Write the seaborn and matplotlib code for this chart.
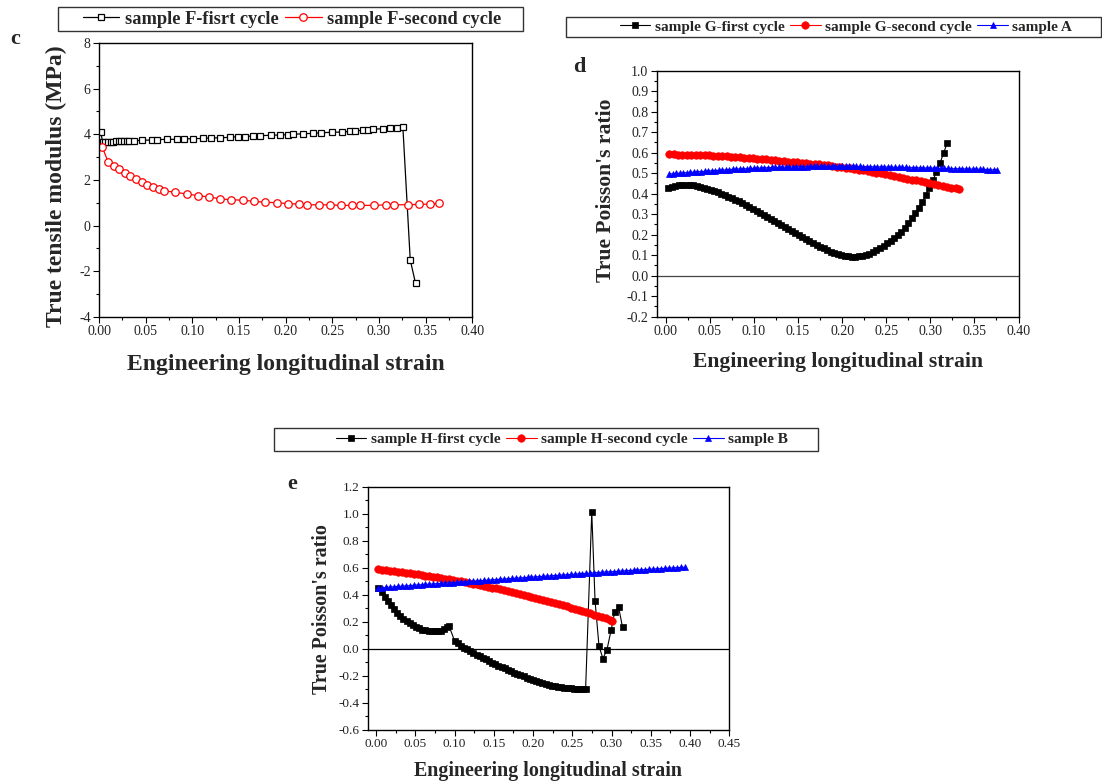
import numpy as np
import pandas as pd
import seaborn as sns
import matplotlib
matplotlib.use("Agg")
import matplotlib.pyplot as plt
from matplotlib.patches import Rectangle
from matplotlib.ticker import MultipleLocator, FormatStrFormatter
from matplotlib.font_manager import FontProperties

# ---------------- data: panel c (true tensile modulus, MPa) ----------------
f1_strain = [0.0018, 0.0039, 0.0068, 0.0097, 0.0125, 0.0154, 0.0182, 0.0211, 0.0240,
             0.0268, 0.0297, 0.0325, 0.0375, 0.0458, 0.0565, 0.0626, 0.0733, 0.0840,
             0.0912, 0.1004, 0.1112, 0.1198, 0.1298, 0.1405, 0.1491, 0.1569, 0.1648,
             0.1727, 0.1841, 0.1941, 0.2027, 0.2084, 0.2191, 0.2298, 0.2384, 0.2495,
             0.2602, 0.2685, 0.2742, 0.2827, 0.2878, 0.2935, 0.3042, 0.3121, 0.3192,
             0.3256, 0.3335, 0.3392]
f1_modulus = [4.09, 3.68, 3.68, 3.68, 3.68, 3.68, 3.69, 3.69, 3.69, 3.70, 3.70, 3.71,
              3.72, 3.74, 3.75, 3.77, 3.78, 3.78, 3.80, 3.81, 3.82, 3.84, 3.85, 3.87,
              3.90, 3.90, 3.93, 3.94, 3.96, 3.97, 3.99, 4.00, 4.03, 4.04, 4.07, 4.09,
              4.10, 4.13, 4.15, 4.18, 4.19, 4.22, 4.25, 4.26, 4.29, 4.32, -1.50, -2.53]

f2_strain = [0.0036, 0.0097, 0.0157, 0.0218, 0.0275, 0.0336, 0.0397, 0.0458, 0.0518,
             0.0579, 0.0640, 0.0701, 0.0819, 0.0940, 0.1062, 0.1180, 0.1301, 0.1419,
             0.1541, 0.1659, 0.1780, 0.1902, 0.2023, 0.2141, 0.2227, 0.2352, 0.2470,
             0.2592, 0.2710, 0.2799, 0.2949, 0.3071, 0.3164, 0.3314, 0.3428, 0.3550,
             0.3646]
f2_modulus = [3.43, 2.80, 2.63, 2.47, 2.31, 2.16, 2.03, 1.91, 1.80, 1.68, 1.62, 1.53,
              1.46, 1.39, 1.31, 1.26, 1.17, 1.14, 1.11, 1.07, 1.02, 1.01, 0.96, 0.95,
              0.92, 0.91, 0.91, 0.89, 0.89, 0.89, 0.89, 0.91, 0.91, 0.92, 0.93, 0.95,
              0.98]

# ---------------- data: panel d (true Poisson's ratio) ----------------
g1_strain = [0.003, 0.007, 0.011, 0.015, 0.019, 0.023, 0.027, 0.031, 0.035, 0.039,
             0.043, 0.047, 0.051, 0.055, 0.059, 0.063, 0.067, 0.071, 0.075, 0.079,
             0.083, 0.087, 0.091, 0.095, 0.099, 0.103, 0.107, 0.111, 0.115, 0.119,
             0.123, 0.127, 0.131, 0.135, 0.139, 0.143, 0.147, 0.151, 0.155, 0.159,
             0.163, 0.167, 0.171, 0.175, 0.179, 0.183, 0.187, 0.191, 0.195, 0.199,
             0.203, 0.207, 0.211, 0.215, 0.219, 0.223, 0.227, 0.231, 0.235, 0.239,
             0.243, 0.247, 0.251, 0.255, 0.259, 0.263, 0.267, 0.271, 0.275, 0.279,
             0.283, 0.287, 0.291, 0.295, 0.299, 0.303, 0.307, 0.311, 0.315, 0.319]
g1_ratio = [0.430, 0.434, 0.437, 0.440, 0.441, 0.442, 0.442, 0.441, 0.438, 0.434,
            0.429, 0.424, 0.419, 0.413, 0.406, 0.399, 0.392, 0.385, 0.378, 0.371,
            0.362, 0.353, 0.344, 0.335, 0.325, 0.316, 0.306, 0.297, 0.287, 0.277,
            0.267, 0.257, 0.247, 0.237, 0.227, 0.217, 0.207, 0.197, 0.187, 0.178,
            0.168, 0.159, 0.150, 0.141, 0.133, 0.125, 0.118, 0.111, 0.106, 0.101,
            0.097, 0.095, 0.093, 0.093, 0.094, 0.097, 0.102, 0.108, 0.116, 0.126,
            0.136, 0.147, 0.158, 0.170, 0.182, 0.197, 0.214, 0.234, 0.256, 0.280,
            0.305, 0.332, 0.361, 0.394, 0.428, 0.466, 0.505, 0.549, 0.597, 0.646]

g2_strain = [0.004, 0.009, 0.014, 0.019, 0.024, 0.029, 0.034, 0.039, 0.044, 0.049,
             0.054, 0.059, 0.064, 0.069, 0.074, 0.079, 0.084, 0.089, 0.094, 0.099,
             0.104, 0.109, 0.114, 0.119, 0.124, 0.129, 0.134, 0.139, 0.144, 0.149,
             0.154, 0.159, 0.164, 0.169, 0.174, 0.179, 0.184, 0.189, 0.194, 0.199,
             0.204, 0.209, 0.214, 0.219, 0.224, 0.229, 0.234, 0.239, 0.244, 0.249,
             0.254, 0.259, 0.264, 0.269, 0.274, 0.279, 0.284, 0.289, 0.294, 0.299,
             0.304, 0.309, 0.314, 0.319, 0.324, 0.329, 0.333]
g2_ratio = [0.592, 0.592, 0.591, 0.591, 0.590, 0.590, 0.589, 0.589, 0.588, 0.587,
            0.586, 0.585, 0.584, 0.582, 0.581, 0.579, 0.578, 0.576, 0.574, 0.572,
            0.571, 0.569, 0.567, 0.565, 0.563, 0.561, 0.559, 0.557, 0.555, 0.553,
            0.551, 0.549, 0.547, 0.545, 0.543, 0.540, 0.538, 0.535, 0.532, 0.529,
            0.526, 0.523, 0.520, 0.517, 0.514, 0.510, 0.507, 0.503, 0.499, 0.495,
            0.491, 0.487, 0.483, 0.478, 0.474, 0.469, 0.465, 0.461, 0.456, 0.452,
            0.448, 0.443, 0.439, 0.434, 0.430, 0.426, 0.423]

a_strain = [0.004, 0.008, 0.012, 0.016, 0.020, 0.024, 0.028, 0.032, 0.036, 0.040,
            0.044, 0.048, 0.052, 0.056, 0.060, 0.064, 0.068, 0.072, 0.076, 0.080,
            0.084, 0.088, 0.092, 0.096, 0.100, 0.104, 0.108, 0.112, 0.116, 0.120,
            0.124, 0.128, 0.132, 0.136, 0.140, 0.144, 0.148, 0.152, 0.156, 0.160,
            0.164, 0.168, 0.172, 0.176, 0.180, 0.184, 0.188, 0.192, 0.196, 0.200,
            0.204, 0.208, 0.212, 0.216, 0.220, 0.224, 0.228, 0.232, 0.236, 0.240,
            0.244, 0.248, 0.252, 0.256, 0.260, 0.264, 0.268, 0.272, 0.276, 0.280,
            0.284, 0.288, 0.292, 0.296, 0.300, 0.304, 0.308, 0.312, 0.316, 0.320,
            0.324, 0.328, 0.332, 0.336, 0.340, 0.344, 0.348, 0.352, 0.356, 0.360,
            0.364, 0.368, 0.372, 0.376]
a_ratio = [0.496, 0.497, 0.499, 0.500, 0.501, 0.503, 0.504, 0.505, 0.507, 0.508,
           0.509, 0.510, 0.512, 0.513, 0.514, 0.515, 0.516, 0.518, 0.519, 0.520,
           0.521, 0.521, 0.522, 0.523, 0.524, 0.525, 0.525, 0.526, 0.527, 0.528,
           0.528, 0.529, 0.529, 0.530, 0.530, 0.531, 0.531, 0.532, 0.532, 0.532,
           0.533, 0.533, 0.533, 0.533, 0.533, 0.533, 0.533, 0.533, 0.533, 0.533,
           0.533, 0.533, 0.533, 0.533, 0.533, 0.532, 0.532, 0.532, 0.531, 0.531,
           0.531, 0.530, 0.530, 0.529, 0.529, 0.529, 0.528, 0.528, 0.527, 0.527,
           0.527, 0.526, 0.526, 0.525, 0.525, 0.525, 0.524, 0.524, 0.523, 0.523,
           0.522, 0.522, 0.522, 0.521, 0.521, 0.520, 0.520, 0.520, 0.519, 0.519,
           0.518, 0.517, 0.516, 0.515]

# ---------------- data: panel e (true Poisson's ratio) ----------------
h1_strain = [0.003, 0.007, 0.011, 0.015, 0.019, 0.023, 0.027, 0.031, 0.035, 0.039,
             0.043, 0.047, 0.051, 0.055, 0.059, 0.063, 0.067, 0.071, 0.075, 0.079,
             0.083, 0.087, 0.091, 0.093,
             0.100, 0.104, 0.108, 0.112, 0.116, 0.120, 0.124, 0.128, 0.132, 0.136,
             0.140, 0.144, 0.148, 0.152, 0.156, 0.160, 0.164, 0.168, 0.172, 0.176,
             0.180, 0.184, 0.188, 0.192, 0.196, 0.200, 0.204, 0.208, 0.212, 0.216,
             0.220, 0.224, 0.228, 0.232, 0.236, 0.240, 0.244, 0.248, 0.252, 0.256,
             0.260, 0.264, 0.267,
             0.2748, 0.279, 0.284, 0.289, 0.2942, 0.2995, 0.304, 0.309, 0.314]
h1_ratio = [0.451, 0.418, 0.386, 0.354, 0.322, 0.293, 0.267, 0.244, 0.224, 0.207,
            0.192, 0.178, 0.164, 0.152, 0.143, 0.137, 0.133, 0.130, 0.129, 0.131,
            0.136, 0.147, 0.162, 0.170,
            0.060, 0.040, 0.025, 0.010, -0.004, -0.017, -0.030, -0.042, -0.054, -0.066,
            -0.078, -0.090, -0.101, -0.112, -0.123, -0.134, -0.144, -0.155, -0.165, -0.175,
            -0.185, -0.195, -0.204, -0.213, -0.222, -0.231, -0.239, -0.247, -0.254, -0.261,
            -0.267, -0.273, -0.278, -0.282, -0.285, -0.288, -0.290, -0.292, -0.293, -0.294,
            -0.294, -0.294, -0.294,
            1.012, 0.355, 0.022, -0.072, -0.005, 0.140, 0.272, 0.309, 0.160]

h2_strain = [0.003, 0.008, 0.013, 0.018, 0.023, 0.028, 0.033, 0.038, 0.043, 0.048,
             0.053, 0.058, 0.063, 0.068, 0.073, 0.078, 0.083, 0.088, 0.093, 0.098,
             0.103, 0.108, 0.113, 0.118, 0.123, 0.128, 0.133, 0.138, 0.143, 0.148,
             0.153, 0.158, 0.163, 0.168, 0.173, 0.178, 0.183, 0.188, 0.193, 0.198,
             0.203, 0.208, 0.213, 0.218, 0.223, 0.228, 0.233, 0.238, 0.243, 0.248,
             0.253, 0.258, 0.263, 0.268, 0.273, 0.278, 0.283, 0.288, 0.293, 0.298,
             0.301]
h2_ratio = [0.588, 0.585, 0.582, 0.579, 0.575, 0.571, 0.568, 0.564, 0.560, 0.556,
            0.552, 0.548, 0.543, 0.539, 0.534, 0.530, 0.525, 0.520, 0.515, 0.510,
            0.505, 0.500, 0.494, 0.488, 0.483, 0.477, 0.471, 0.465, 0.459, 0.453,
            0.447, 0.440, 0.434, 0.427, 0.420, 0.413, 0.407, 0.400, 0.392, 0.385,
            0.378, 0.370, 0.362, 0.355, 0.347, 0.339, 0.331, 0.323, 0.314, 0.306,
            0.297, 0.289, 0.280, 0.271, 0.262, 0.253, 0.244, 0.235, 0.225, 0.216,
            0.210]

b_strain = [0.003, 0.008, 0.013, 0.018, 0.023, 0.028, 0.033, 0.038, 0.043, 0.048,
            0.053, 0.058, 0.063, 0.068, 0.073, 0.078, 0.083, 0.088, 0.093, 0.098,
            0.103, 0.108, 0.113, 0.118, 0.123, 0.128, 0.133, 0.138, 0.143, 0.148,
            0.153, 0.158, 0.163, 0.168, 0.173, 0.178, 0.183, 0.188, 0.193, 0.198,
            0.203, 0.208, 0.213, 0.218, 0.223, 0.228, 0.233, 0.238, 0.243, 0.248,
            0.253, 0.258, 0.263, 0.268, 0.273, 0.278, 0.283, 0.288, 0.293, 0.298,
            0.303, 0.308, 0.313, 0.318, 0.323, 0.328, 0.333, 0.338, 0.343, 0.348,
            0.353, 0.358, 0.363, 0.368, 0.373, 0.378, 0.383, 0.388, 0.393]
b_ratio = [0.451, 0.453, 0.455, 0.457, 0.460, 0.462, 0.464, 0.466, 0.468, 0.471,
           0.473, 0.475, 0.477, 0.479, 0.481, 0.483, 0.485, 0.487, 0.489, 0.491,
           0.493, 0.495, 0.497, 0.499, 0.501, 0.503, 0.505, 0.507, 0.509, 0.511,
           0.513, 0.515, 0.517, 0.519, 0.521, 0.523, 0.525, 0.527, 0.529, 0.531,
           0.533, 0.535, 0.537, 0.539, 0.541, 0.543, 0.545, 0.547, 0.549, 0.551,
           0.553, 0.555, 0.557, 0.559, 0.561, 0.563, 0.565, 0.567, 0.569, 0.571,
           0.572, 0.574, 0.576, 0.578, 0.580, 0.582, 0.584, 0.585, 0.587, 0.589,
           0.591, 0.593, 0.594, 0.596, 0.598, 0.599, 0.601, 0.603, 0.604]

XLABEL = "Engineering longitudinal strain"

# ---------------- styling ----------------
sns.set_theme(style="ticks")
plt.rcParams["font.family"] = ["Liberation Serif", "DejaVu Serif"]
plt.rcParams["axes.unicode_minus"] = False
plt.rcParams["axes.linewidth"] = 1.0

W, H = 1102, 784
fig = plt.figure(figsize=(W / 100, H / 100), dpi=100)
fig.patch.set_facecolor("white")


def px_rect(x0, y0, x1, y1):
    return [x0 / W, 1 - y1 / H, (x1 - x0) / W, (y1 - y0) / H]


def style_axes(ax, tick_size):
    for side in ("left", "right", "top", "bottom"):
        ax.spines[side].set_visible(True)
        ax.spines[side].set_color("black")
        ax.spines[side].set_linewidth(1.0)
    ax.tick_params(which="major", direction="out", length=4, width=0.8,
                   top=False, right=False, labelsize=tick_size, colors="black",
                   labelcolor="#222222", pad=2)
    ax.tick_params(which="minor", direction="out", length=2.2, width=0.8,
                   top=False, right=False, colors="black")
    ax.set_facecolor("white")
    ax.grid(False)


def set_labels(ax, ylabel, size, xlab_y, ylab_xy):
    ax.set_xlabel(XLABEL, fontsize=size, fontweight="bold")
    ax.set_ylabel(ylabel, fontsize=size, fontweight="bold")
    ax.xaxis.label.set_va("baseline")
    ax.xaxis.set_label_coords(0.5, xlab_y)
    ax.yaxis.label.set_va("center")
    ax.yaxis.set_label_coords(*ylab_xy)


def draw_series(ax, x, y, label, **kw):
    df = pd.DataFrame({"strain": x, "value": y})
    sns.lineplot(data=df, x="strain", y="value", ax=ax, estimator=None,
                 sort=False, label=label, **kw)


def legend_box(handles, labels, box, center_x, size, ncol):
    x0, y0, x1, y1 = box
    fig.patches.append(Rectangle((x0 / W, 1 - y1 / H), (x1 - x0) / W, (y1 - y0) / H,
                                 transform=fig.transFigure, fill=False,
                                 edgecolor="#333333", linewidth=1.0))
    fig.legend(handles, labels, loc="center",
               bbox_to_anchor=(center_x / W, 1 - (y0 + y1) / 2 / H),
               ncol=ncol, frameon=False, borderpad=0, handlelength=2.0,
               handletextpad=0.3, columnspacing=0.35,
               prop=FontProperties(family="Liberation Serif", weight="bold", size=size))


# ---------------- panel c ----------------
ax_c = fig.add_axes(px_rect(99, 43, 472.3, 317))
draw_series(ax_c, f1_strain, f1_modulus, "sample F-fisrt cycle", color="black",
            linewidth=0.9, marker="s", markersize=5.0, markerfacecolor="white",
            markeredgecolor="black", markeredgewidth=0.9)
draw_series(ax_c, f2_strain, f2_modulus, "sample F-second cycle", color="red",
            linewidth=0.9, marker="o", markersize=5.4, markerfacecolor="white",
            markeredgecolor="red", markeredgewidth=0.9)
ax_c.set_xlim(0, 0.40)
ax_c.set_ylim(-4, 8)
ax_c.xaxis.set_major_locator(MultipleLocator(0.05))
ax_c.xaxis.set_minor_locator(MultipleLocator(0.025))
ax_c.xaxis.set_major_formatter(FormatStrFormatter("%.2f"))
ax_c.yaxis.set_major_locator(MultipleLocator(2))
ax_c.yaxis.set_minor_locator(MultipleLocator(1))
style_axes(ax_c, 10)
set_labels(ax_c, "True tensile modulus (MPa)", 17, -0.193, (-0.115, 0.479))
h, l = ax_c.get_legend_handles_labels()
ax_c.get_legend().remove()
legend_box(h, l, (58, 7, 523, 31), 292, 13.2, 2)
fig.text(15 / W, 1 - 39 / H, "c", fontsize=16, fontweight="bold", ha="center", va="center")

# ---------------- panel d ----------------
ax_d = fig.add_axes(px_rect(656.7, 70.7, 1018.5, 316.7))
ax_d.axhline(0, color="#444444", linewidth=0.9, zorder=1)
draw_series(ax_d, g1_strain, g1_ratio, "sample G-first cycle", color="black",
            linewidth=0.8, marker="s", markersize=4.8, markeredgecolor="black",
            markeredgewidth=0.5)
draw_series(ax_d, g2_strain, g2_ratio, "sample G-second cycle", color="red",
            linewidth=0.8, marker="o", markersize=5.4, markeredgecolor="red",
            markeredgewidth=0.5)
draw_series(ax_d, a_strain, a_ratio, "sample A", color="blue",
            linewidth=0.8, marker="^", markersize=5.0, markeredgecolor="blue",
            markeredgewidth=0.5)
ax_d.set_xlim(-0.0102, 0.40)
ax_d.set_ylim(-0.2, 1.0)
ax_d.xaxis.set_major_locator(MultipleLocator(0.05))
ax_d.xaxis.set_minor_locator(MultipleLocator(0.025))
ax_d.xaxis.set_major_formatter(FormatStrFormatter("%.2f"))
ax_d.yaxis.set_major_locator(MultipleLocator(0.1))
ax_d.yaxis.set_minor_locator(MultipleLocator(0.05))
ax_d.yaxis.set_major_formatter(FormatStrFormatter("%.1f"))
style_axes(ax_d, 10)
set_labels(ax_d, "True Poisson's ratio", 15.6, -0.204, (-0.140, 0.515))
h, l = ax_d.get_legend_handles_labels()
ax_d.get_legend().remove()
legend_box(h, l, (566, 17, 1101, 37), 846, 11.0, 3)
fig.text(579 / W, 1 - 67 / H, "d", fontsize=16, fontweight="bold", ha="center", va="center")

# ---------------- panel e ----------------
ax_e = fig.add_axes(px_rect(367.7, 486.7, 729.3, 730))
ax_e.axhline(0, color="black", linewidth=0.9, zorder=1)
draw_series(ax_e, h1_strain, h1_ratio, "sample H-first cycle", color="black",
            linewidth=0.8, marker="s", markersize=4.6, markeredgecolor="black",
            markeredgewidth=0.5)
draw_series(ax_e, h2_strain, h2_ratio, "sample H-second cycle", color="red",
            linewidth=0.8, marker="o", markersize=5.4, markeredgecolor="red",
            markeredgewidth=0.5)
draw_series(ax_e, b_strain, b_ratio, "sample B", color="blue",
            linewidth=0.8, marker="^", markersize=5.0, markeredgecolor="blue",
            markeredgewidth=0.5)
ax_e.set_xlim(-0.0106, 0.45)
ax_e.set_ylim(-0.6, 1.2)
ax_e.xaxis.set_major_locator(MultipleLocator(0.05))
ax_e.xaxis.set_minor_locator(MultipleLocator(0.025))
ax_e.xaxis.set_major_formatter(FormatStrFormatter("%.2f"))
ax_e.yaxis.set_major_locator(MultipleLocator(0.2))
ax_e.yaxis.set_minor_locator(MultipleLocator(0.1))
ax_e.yaxis.set_major_formatter(FormatStrFormatter("%.1f"))
style_axes(ax_e, 9.5)
set_labels(ax_e, "True Poisson's ratio", 14.4, -0.189, (-0.126, 0.499))
h, l = ax_e.get_legend_handles_labels()
ax_e.get_legend().remove()
legend_box(h, l, (274, 428, 818, 451), 562, 11.0, 3)
fig.text(292.5 / W, 1 - 484 / H, "e", fontsize=16, fontweight="bold", ha="center", va="center")

fig.savefig("out.png", dpi=100, facecolor="white")
